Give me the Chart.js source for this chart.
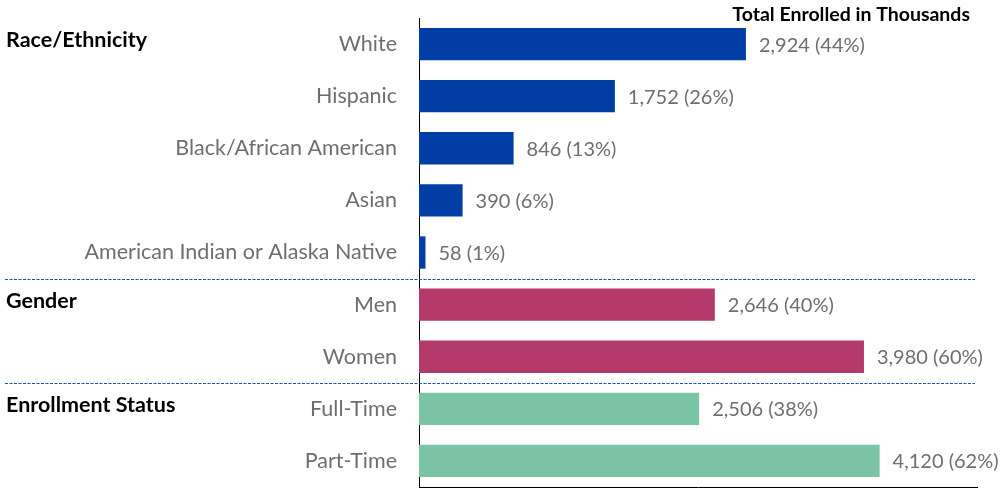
<!DOCTYPE html>
<html>
<head>
<meta charset="utf-8">
<script src="https://cdn.jsdelivr.net/npm/chart.js@4/dist/chart.umd.min.js"></script>
<style>
html,body{margin:0;padding:0;background:#fff;}
#wrap{width:1003px;height:493px;position:relative;}
</style>
</head>
<body>
<div id="wrap"><canvas id="c"></canvas></div>
<script>
const categories = ["White","Hispanic","Black/African American","Asian","American Indian or Alaska Native","Men","Women","Full-Time","Part-Time"];
const enrolled = [2924,1752,846,390,58,2646,3980,2506,4120];
const percents = [44,26,13,6,1,40,60,38,62];
const groupNames = ["Race/Ethnicity","Gender","Enrollment Status"];
const groupStart = [0,5,7];
const barColors = ["#003DA5","#003DA5","#003DA5","#003DA5","#003DA5","#B33A6B","#B33A6B","#7BC4A5","#7BC4A5"];
const headerText = "Total Enrolled in Thousands";
const xMax = 5000;

const FONT = "Lato, 'Noto Sans', sans-serif";
const GRAY = "#6d6e71";

function fmt(v){ return v.toLocaleString('en-US'); }

const overlay = {
  id:'overlay',
  afterDatasetsDraw(chart){
    const ctx = chart.ctx, x = chart.scales.x, y = chart.scales.y, a = chart.chartArea;
    ctx.save();
    // bottom axis line
    ctx.strokeStyle = "#000";
    ctx.lineWidth = 1;
    ctx.beginPath();
    ctx.moveTo(a.left, Math.round(a.bottom) + 0.5);
    ctx.lineTo(a.right, Math.round(a.bottom) + 0.5);
    ctx.stroke();
    // value labels
    ctx.font = "20px " + FONT;
    ctx.fillStyle = GRAY;
    ctx.textAlign = 'left';
    ctx.textBaseline = 'middle';
    enrolled.forEach((v,i)=>{
      ctx.fillText(fmt(v) + " (" + percents[i] + "%)", x.getPixelForValue(v) + 13, y.getPixelForValue(i) + 1);
    });
    // group labels
    ctx.font = "bold 21.5px " + FONT;
    ctx.fillStyle = "#000";
    groupNames.forEach((g,i)=>{
      ctx.fillText(g, 6, y.getPixelForValue(groupStart[i]) - 4);
    });
    // dashed separators
    ctx.strokeStyle = "#1E50B0";
    ctx.lineWidth = 1.2;
    ctx.setLineDash([3,1.5]);
    groupStart.slice(1).forEach(s=>{
      const yy = Math.round((y.getPixelForValue(s-1) + y.getPixelForValue(s))/2) + 0.5;
      ctx.beginPath();
      ctx.moveTo(5, yy);
      ctx.lineTo(975, yy);
      ctx.stroke();
    });
    ctx.setLineDash([]);
    // header
    ctx.font = "bold 19.5px " + FONT;
    ctx.fillStyle = "#000";
    ctx.textAlign = 'right';
    ctx.fillText(headerText, 970, 15);
    ctx.restore();
  }
};

new Chart(document.getElementById('c'), {
  type:'bar',
  data:{
    labels: categories,
    datasets:[{ data: enrolled, backgroundColor: barColors, borderWidth:0, categoryPercentage:1, barPercentage:0.62 }]
  },
  options:{
    indexAxis:'y',
    responsive:true,
    maintainAspectRatio:false,
    animation:false,
    layout:{ padding:{ top:18, right:25, bottom:6, left:0 } },
    plugins:{ legend:{display:false}, tooltip:{enabled:false} },
    scales:{
      x:{
        display:false,
        min:0, max:xMax
      },
      y:{
        grid:{display:false, drawTicks:false},
        border:{display:true, color:"#000", width:1},
        ticks:{ color:GRAY, font:{family:FONT, size:21.5}, padding:22 },
        afterFit(s){ s.width = 419; s.paddingTop = 0; s.paddingBottom = 0; }
      }
    }
  },
  plugins:[overlay]
});
</script>
</body>
</html>
